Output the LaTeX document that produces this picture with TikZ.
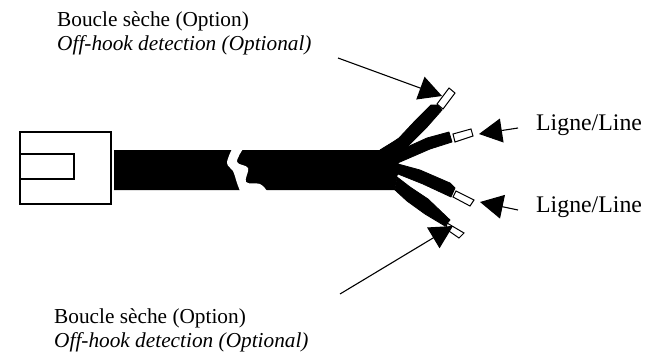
\documentclass[tikz,border=0pt]{standalone}
\usepackage{fontspec}
\setmainfont{Liberation Serif}
\usetikzlibrary{arrows.meta}
\tikzset{
  x=1pt,y=-1pt,
  label text/.style={align=left,anchor=base west,inner sep=0pt,font=\fontsize{21.3}{24}\selectfont},
  line text/.style={anchor=base west,inner sep=0pt,font=\fontsize{23.8}{28}\selectfont},
  wire/.style={fill=black,draw=black,line width=.8pt,line join=round},
  ferrule/.style={draw=black,fill=white,line width=1pt,line join=miter},
  outline/.style={draw=black,fill=white,line width=1.3pt},
  callout/.style={draw=black,line width=1.1pt,-{Triangle[length=23pt,width=24pt]},shorten >=0pt},
}
\begin{document}
\begin{tikzpicture}
\useasboundingbox (0,0) rectangle (645,356);
% plug
\path[outline] (20,132) rectangle (111,204);
\path[outline] (20,154) rectangle (74,179);
% cable
\fill[black] (114,150) -- (380,150) -- (393,142) -- (405,147) -- (400,162) -- (398,164) -- (398,174) -- (397,177) -- (395,190) -- (114,190) -- cycle;
% break in the cable
\fill[white] plot[smooth,tension=.6] coordinates {(232,149) (227,163) (233,171) (237,183) (240,191)}
  -- plot[smooth,tension=.6] coordinates {(267,191) (260,184) (246,182) (248,168) (237,162) (243,149)} -- cycle;
% wires
\path[wire] (380,150) -- (393,142) -- (399,138) -- (414,122) -- (431,105) -- (438,105) -- (442,110) -- (427,127) -- (413,141) -- (405,149) -- cycle;
\path[wire] (397,154) -- (405,148) -- (427,138) -- (449,132) -- (452,142) -- (430,149) -- (400,162) -- cycle;
\path[wire] (398,164) -- (420,170) -- (450,183) -- (455,188) -- (451,197) -- (423,184) -- (398,174) -- cycle;
\path[wire] (397,177) -- (410,187) -- (428,199) -- (450,220) -- (445,226) -- (425,214) -- (407,201) -- (395,190) -- cycle;
% ferrules
\path[ferrule] (437,104) -- (449,88) -- (455,93) -- (443,109) -- cycle;
\path[ferrule] (453,134) -- (471,129) -- (473,136) -- (455,142) -- cycle;
\path[ferrule] (456,191) -- (474,200) -- (470,206) -- (453,197) -- cycle;
\path[ferrule] (447,223) -- (464,233) -- (459,238) -- (446,229) -- cycle;
% callout ends
\coordinate (a1) at (338,58);  \coordinate (t1) at (442,96);
\coordinate (a2) at (518,128); \coordinate (t2) at (479,134);
\coordinate (a3) at (518,210); \coordinate (t3) at (480,202);
\coordinate (a4) at (340,294); \coordinate (t4) at (453,226);
\draw[callout] (a1) -- (t1);
\draw[callout] (a2) -- (t2);
\draw[callout] (a3) -- (t3);
\draw[callout] (a4) -- (t4);
% labels
\node[label text] (l1) at (57,50) {Boucle sèche (Option)\\\textit{Off-hook detection (Optional)}};
\node[line text] (l2) at (536,130) {Ligne/Line};
\node[line text] (l3) at (536,212) {Ligne/Line};
\node[label text] (l4) at (54,347) {Boucle sèche (Option)\\\textit{Off-hook detection (Optional)}};
\end{tikzpicture}
\end{document}
